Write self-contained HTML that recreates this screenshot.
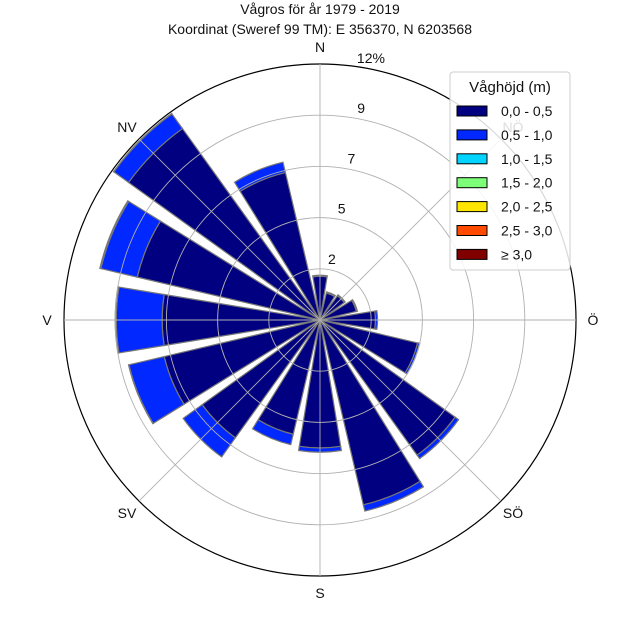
<!DOCTYPE html>
<html><head><meta charset="utf-8"><style>
body{margin:0;background:#fff}
svg{display:block;font-family:"Liberation Sans",sans-serif}
</style></head><body>
<svg id="c" width="640" height="640" viewBox="0 0 640 640">
<text x="320" y="14" text-anchor="middle" font-size="14" fill="#111">Vågros för år 1979 - 2019</text>
<text x="320" y="34" text-anchor="middle" font-size="14" fill="#111">Koordinat (Sweref 99 TM): E 356370, N 6203568</text>
<g id="bars"></g><g id="grid"></g><g id="labels"></g>
<g>
<rect x="450" y="72" width="120" height="198" rx="3" fill="#fff" fill-opacity="0.85" stroke="#ccc"/>
<text x="510" y="92" text-anchor="middle" font-size="15" fill="#111">Våghöjd (m)</text>
<g id="legend"></g></g>
</svg>
<script>
const directions=["N","NNÖ","NÖ","ÖNÖ","Ö","ÖSÖ","SÖ","SSÖ","S","SSV","SV","VSV","V","VNV","NV","NNV"];
const bins=["0,0 - 0,5","0,5 - 1,0","1,0 - 1,5","1,5 - 2,0","2,0 - 2,5","2,5 - 3,0","≥ 3,0"];
const colors=["#000080","#0028ff","#00d4ff","#7dff7a","#ffe600","#ff4a00","#800000"];
const s0=[2.05,1.3,1.4,1.75,2.6,4.7,7.8,8.9,6.0,5.5,6.8,7.5,7.4,8.8,11.05,7.1];
const s1=[0.05,0.05,0.05,0.05,0.1,0.1,0.2,0.3,0.2,0.5,1.1,1.7,2.15,1.75,0.85,0.5];
const s2=[0,0,0,0,0,0,0,0,0,0,0,0.02,0.05,0.05,0.02,0];
const series=[s0,s1,s2];
const ringVals=[2.4,4.8,7.2,9.6,12];
const ringLabels=["2","5","7","9","12%"];
const compass=["N","NÖ","Ö","SÖ","S","SV","V","NV"];
const cx=320,cy=320,R=256,maxV=12,ns="http://www.w3.org/2000/svg";
const rs=v=>v/maxV*R;
const pt=(a,r)=>[cx+r*Math.sin(a*Math.PI/180),cy-r*Math.cos(a*Math.PI/180)];
function mk(t,at,p){const e=document.createElementNS(ns,t);for(const k in at)e.setAttribute(k,at[k]);p.appendChild(e);return e;}
const bars=document.getElementById('bars'),half=9.3;
directions.forEach((d,i)=>{
 let base=0;const a=i*22.5;
 series.forEach((s,j)=>{
  const v=s[i];if(v<=0)return;
  const r0=rs(base),r1=rs(base+v);base+=v;
  const p1=pt(a-half,r0),p2=pt(a-half,r1),p3=pt(a+half,r1),p4=pt(a+half,r0);
  const dpath=`M${p1}L${p2}A${r1},${r1} 0 0 1 ${p3}L${p4}`+(r0>0?`A${r0},${r0} 0 0 0 ${p1}Z`:'Z');
  const e=mk('path',{d:dpath,fill:colors[j],stroke:'#777','stroke-width':1.2},bars);
  
  
 });
});
const g=document.getElementById('grid');
ringVals.forEach((v,i)=>{
 const e=mk('circle',{cx,cy,r:rs(v),fill:'none',stroke:i==ringVals.length-1?'#000':'#b0b0b0','stroke-width':i==ringVals.length-1?1.2:0.9},g);
 
 
 const p=pt(11,rs(v)+11);
 const t=mk('text',{x:p[0],y:p[1]+5,'text-anchor':'middle','font-size':14,fill:'#111'},document.getElementById('labels'));
 t.textContent=ringLabels[i];
 
 
});
compass.forEach((c,i)=>{
 const a=i*45,p=pt(a,R);
 const l=mk('line',{x1:cx,y1:cy,x2:p[0],y2:p[1],stroke:'#b0b0b0','stroke-width':0.9},g);
 
 
 const q=pt(a,273);
 const t=mk('text',{x:q[0],y:q[1]+5,'text-anchor':'middle','font-size':14,fill:'#111'},document.getElementById('labels'));
 t.textContent=c;
 
 
});
const lg=document.getElementById('legend');
bins.forEach((b,i)=>{
 const y=111+i*23.9;
 const r=mk('rect',{x:457,y:y-5,width:30,height:10,fill:colors[i],stroke:'#000','stroke-width':1},lg);
 
 
 const t=mk('text',{x:501,y:y+5,'font-size':14,fill:'#111'},lg);
 t.textContent=b;
 
 
});
</script>
</body></html>
